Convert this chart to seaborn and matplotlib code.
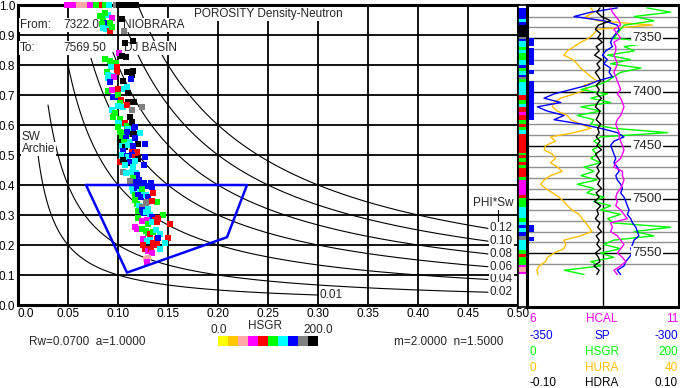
import numpy as np
import matplotlib
matplotlib.use('Agg')
import matplotlib.pyplot as plt
from matplotlib.colors import ListedColormap
import seaborn as sns

# HSGR colour classes, 0-200 API in 10 bins
gr_names = ['yellow', 'orange', 'pink', 'magenta', 'red',
            'green', 'cyan', 'blue', 'gray', 'black']
gr_colors = ['#FFFF00', '#FFC800', '#FFA8A8', '#FF00FF', '#FF0000',
             '#00FF00', '#00FFFF', '#0000FF', '#808080', '#000000']
GR_PAL = dict(zip(gr_names, gr_colors))

# ---- crossplot points (porosity, Sw, HSGR class)
pt_phi = [
    # clipped at Sw = 1
    .049, .053, .057, .061, .065, .068, .072, .078, .081, .084, .087, .091, .098, .101, .105, .109, .113, .118,
    # upper cloud
    .082, .085, .090, .094, .087, .089, .092, .084, .085, .088, .092, .094, .106, .104, .115, .107, .101, .104,
    .108, .087, .092, .094, .098, .093, .109, .115, .114, .113, .099, .099, .089, .090, .094, .096, .090, .092,
    .105, .109, .106, .110, .090, .094, .100, .095, .099, .100, .103, .102, .110, .116, .100, .105, .109, .114,
    .124, .094, .097, .095, .112, .102, .100, .104, .107, .109, .114, .117, .115, .110, .100, .104, .109, .112,
    .116,
    # lower cloud
    .102, .105, .109, .115, .122, .104, .108, .102, .106, .112, .117, .120, .127, .104, .107, .110, .115, .105,
    .114, .117, .119, .104, .109, .110, .114, .117, .120, .127, .102, .105, .109, .112, .117, .126, .107, .115,
    .105, .108, .114, .118, .119, .115, .112, .114, .118, .121, .122, .126, .128, .133, .134, .114, .115, .119,
    .122, .124, .117, .120, .123, .128, .130, .135, .139, .117, .119, .121, .124, .128, .129, .134, .120, .124,
    .125, .128, .130, .132, .134, .137, .140, .145, .152, .120, .124, .129, .130, .134, .139, .140, .117, .119,
    .124, .128, .130, .132, .135, .138, .142, .150, .125, .129, .132, .139, .135, .139, .142, .125, .127, .130,
    .133, .134, .147, .140, .128, .130, .129,
]
pt_sw = [
    1.0, 1.0, 1.0, 1.0, 1.0, 1.0, 1.0, 1.0, 1.0, 1.0, 1.0, 1.0, 1.0, 1.0, 1.0, 1.0, 1.0, 1.0,
    .963, .953, .967, .956, .972, .941, .939, .937, .922, .919, .914, .928, .913, .952, .881, .874, .841, .830,
    .828, .819, .814, .806, .808, .794, .778, .781, .767, .753, .792, .778, .778, .767, .763, .759, .756, .744,
    .748, .726, .719, .708, .714, .717, .719, .692, .694, .700, .683, .674, .678, .678, .663, .661, .667, .650,
    .661, .650, .641, .628, .628, .619, .608, .603, .608, .597, .611, .594, .586, .586, .592, .574, .574, .570,
    .570,
    .578, .572, .578, .570, .572, .559, .556, .544, .544, .544, .556, .537, .537, .530, .526, .533, .530, .514,
    .511, .506, .511, .500, .497, .492, .500, .494, .486, .494, .476, .483, .472, .478, .481, .467, .467, .461,
    .444, .439, .444, .441, .433, .422, .414, .408, .411, .417, .403, .406, .397, .406, .394, .392, .381, .389,
    .378, .386, .367, .367, .359, .367, .359, .372, .344, .350, .337, .330, .326, .339, .344, .348, .314, .317,
    .306, .311, .319, .299, .292, .283, .289, .300, .270, .289, .281, .283, .270, .278, .278, .286, .261, .254,
    .254, .248, .241, .237, .244, .250, .237, .222, .221, .214, .217, .221, .206, .199, .188, .199, .188, .181,
    .186, .172, .206, .222, .154, .157, .143,
]
pt_cls = [
    'magenta', 'magenta', 'magenta', 'pink', 'pink', 'pink', 'magenta', 'green', 'green', 'red', 'green', 'cyan',
    'gray', 'black', 'black', 'black', 'black', 'black',
    'green', 'green', 'cyan', 'magenta', 'green', 'blue', 'green', 'green', 'cyan', 'cyan', 'red', 'green',
    'gray', 'black', 'black', 'black', 'magenta', 'black', 'black', 'green', 'green', 'green', 'green', 'cyan',
    'black', 'black', 'black', 'blue', 'red', 'red', 'green', 'cyan', 'cyan', 'magenta', 'cyan', 'blue',
    'black', 'cyan', 'cyan', 'black', 'green', 'magenta', 'red', 'blue', 'blue', 'green', 'red', 'green',
    'black', 'black', 'cyan', 'cyan', 'red', 'gray', 'gray', 'cyan', 'green', 'green', 'black', 'green',
    'cyan', 'cyan', 'red', 'green', 'black', 'blue', 'blue', 'cyan', 'green', 'green', 'red', 'green', 'black',
    'green', 'green', 'blue', 'black', 'cyan', 'green', 'blue', 'black', 'green', 'cyan', 'blue', 'black',
    'blue', 'cyan', 'black', 'cyan', 'blue', 'blue', 'red', 'blue', 'red', 'cyan', 'blue', 'cyan', 'blue',
    'red', 'black', 'blue', 'red', 'black', 'black', 'blue', 'cyan', 'blue', 'cyan', 'cyan', 'gray', 'cyan',
    'cyan', 'cyan', 'blue', 'green', 'gray', 'gray', 'blue', 'blue', 'blue', 'blue', 'blue', 'blue', 'blue',
    'cyan', 'cyan', 'blue', 'cyan', 'green', 'green', 'blue', 'blue', 'cyan', 'blue', 'red', 'green', 'green',
    'green', 'cyan', 'gray', 'gray', 'gray', 'red', 'green', 'blue', 'blue', 'cyan', 'cyan', 'cyan', 'blue',
    'red', 'red', 'green', 'red', 'green', 'magenta', 'magenta', 'green', 'cyan', 'red', 'red', 'magenta',
    'magenta', 'green', 'green', 'green', 'red', 'green', 'cyan', 'cyan', 'red', 'magenta', 'cyan', 'cyan',
    'red', 'red', 'red', 'cyan', 'red', 'red', 'magenta', 'red', 'magenta', 'cyan', 'blue', 'pink', 'pink',
    'magenta',
]

# ---- bulk volume water lines (PHI*Sw)
bvw_vals = [0.01, 0.02, 0.04, 0.06, 0.08, 0.10, 0.12]
bvw_start = [0.018, 0.030, 0.050, 0.073, 0.095, 0.105, 0.120]
bvw_end = [0.30, 0.47, 0.47, 0.47, 0.47, 0.47, 0.47]

# ---- cutoff polygon
poly_phi = [0.068, 0.229, 0.209, 0.109, 0.068]
poly_sw = [0.400, 0.400, 0.226, 0.108, 0.400]

# ---- log curves, sampled every 4 ft
depth = np.arange(7322, 7571, 4)
hura = [16.8, 17.6, 15.5, 18.5, 33.0, 18.5, 17.6, 16.3, 14.1, 12.4,
        10.6, 9.7, 12.0, 13.2, 14.1, 15.5, 16.8, 18.5, 15.0, 15.9,
        12.4, 8.8, 7.1, 6.7, 8.0, 10.6, 11.5, 14.1, 16.8, 12.4,
        6.2, 7.5, 4.9, 4.5, 6.7, 7.5, 6.2, 8.0, 9.3, 6.2,
        4.5, 3.6, 4.9, 6.7, 8.4, 9.7, 10.6, 11.9, 13.7, 14.5,
        15.5, 16.3, 17.1, 14.1, 9.7, 10.2, 9.7, 7.1, 5.4, 4.9,
        3.2, 2.6, 2.9]
hsgr = [158, 189, 141, 167, 128, 123, 119, 114, 167, 128,
        141, 106, 136, 110, 150, 123, 114, 106, 92, 71,
        106, 84, 110, 71, 97, 66, 88, 84, 114, 185,
        97, 88, 97, 86, 92, 84, 97, 75, 88, 71,
        92, 66, 88, 79, 101, 88, 110, 97, 123, 106,
        114, 189, 141, 167, 114, 101, 123, 97, 114, 84,
        97, 49, 75]
sp = [-320.3, -329.0, -334.5, -324.7, -320.3, -319.7, -320.8, -321.9, -322.5, -321.9,
      -324.1, -325.2, -323.6, -324.7, -322.5, -323.0, -321.9, -326.9, -330.2, -335.6,
      -341.1, -344.4, -338.9, -346.6, -343.3, -337.8, -341.1, -332.3, -325.8, -320.3,
      -318.1, -321.4, -322.5, -321.9, -321.4, -320.8, -321.4, -320.3, -319.7, -320.8,
      -320.3, -319.2, -318.6, -319.2, -318.1, -317.5, -317.0, -316.4, -317.0, -315.9,
      -315.3, -314.2, -313.7, -313.2, -314.8, -315.3, -315.9, -315.3, -316.4, -317.5,
      -318.1, -320.3, -319.2]
hcal = [8.75, 8.81, 8.92, 9.03, 9.08, 8.86, 8.97, 9.08, 8.86, 8.92,
        8.92, 8.86, 8.92, 8.97, 8.92, 8.86, 8.92, 8.97, 9.03, 9.08,
        8.97, 9.08, 9.14, 9.19, 9.14, 9.08, 8.97, 8.92, 8.97, 9.03,
        9.03, 9.08, 9.14, 9.19, 9.14, 9.08, 8.92, 8.86, 9.14, 9.14,
        9.19, 9.14, 9.08, 8.97, 8.92, 8.97, 8.92, 9.08, 9.19, 9.30,
        8.75, 8.81, 8.75, 8.97, 9.08, 9.19, 9.08, 8.97, 9.14, 9.25,
        9.08, 8.86, 8.97]
hdra = [-0.004, -0.008, -0.002, 0.010, -0.006, -0.010, -0.003, -0.007, -0.001, -0.009,
        -0.005, -0.011, -0.002, -0.008, -0.004, -0.010, -0.006, -0.003, -0.009, -0.005,
        -0.008, -0.002, -0.007, -0.010, -0.004, -0.006, -0.009, -0.003, -0.007, -0.005,
        -0.009, -0.004, -0.008, -0.002, -0.010, -0.006, -0.003, -0.008, -0.005, -0.009,
        -0.004, -0.007, -0.002, -0.009, -0.005, -0.011, -0.003, -0.008, -0.006, -0.010,
        -0.004, -0.007, -0.002, -0.009, -0.005, -0.008, -0.003, -0.010, -0.006, -0.004,
        -0.012, -0.005, -0.008]

# HSGR colour strip (segment tops) and pay flags
strip_top = [7322, 7332, 7335, 7338, 7349, 7351, 7353, 7358, 7361, 7364, 7370, 7375, 7378, 7381,
             7384, 7386, 7388, 7391, 7403, 7408, 7411, 7414, 7419, 7422, 7426, 7430, 7433, 7436,
             7439, 7457, 7459, 7462, 7465, 7468, 7471, 7479, 7482, 7496, 7499, 7507, 7517, 7521,
             7524, 7527, 7530, 7534, 7538, 7547, 7551, 7554, 7561, 7563, 7568, 7569.5]
strip_cls = ['blue', 'cyan', 'blue', 'black', 'gray', 'blue', 'cyan', 'green', 'cyan', 'green', 'cyan',
             'blue', 'green', 'cyan', 'blue', 'gray', 'green', 'cyan', 'red', 'green', 'cyan', 'red',
             'magenta', 'red', 'green', 'red', 'green', 'cyan', 'red', 'green', 'red', 'green', 'red',
             'green', 'red', 'green', 'magenta', 'red', 'green', 'cyan', 'green', 'cyan', 'blue', 'cyan',
             'blue', 'gray', 'cyan', 'green', 'red', 'green', 'magenta', 'pink', 'magenta']
flag_top = [7350, 7359, 7380, 7390, 7524, 7535]
flag_bot = [7357, 7375, 7383.5, 7426, 7530, 7539]

# ---- figure
sns.set_theme(style='white')
plt.rcParams['font.family'] = ['Liberation Sans', 'DejaVu Sans']
W, H = 680, 388
fig = plt.figure(figsize=(W / 100, H / 100), dpi=100)


def px_rect(x0, y0, x1, y1):
    return [x0 / W, 1 - y1 / H, (x1 - x0) / W, (y1 - y0) / H]


FS = 8.5
white_box = dict(facecolor='white', edgecolor='none', pad=0.6)

# main crossplot
ax = fig.add_axes(px_rect(18, 5, 518, 305))
ax.set_xlim(0, 0.5)
ax.set_ylim(0, 1)
ax.set_xticks(np.arange(0, 0.501, 0.05))
ax.set_yticks(np.arange(0, 1.001, 0.1))
ax.set_xticklabels(['0.0'] + [f'{v:.2f}' for v in np.arange(0.05, 0.501, 0.05)], fontsize=FS)
ax.set_yticklabels([f'{v:.1f}' for v in np.arange(0, 1.001, 0.1)], fontsize=FS)
ax.get_xticklabels()[0].set_horizontalalignment('left')
ax.tick_params(length=0, pad=2, colors='black')
ax.grid(True, color='black', lw=1.3)
ax.set_axisbelow(True)
for s in ax.spines.values():
    s.set_color('black')
    s.set_linewidth(2.2)

for c, p0, p1 in zip(bvw_vals, bvw_start, bvw_end):
    phi = np.linspace(p0, p1, 200)
    sns.lineplot(x=phi, y=c / phi, ax=ax, color='black', lw=0.8,
                 sort=False, estimator=None, zorder=2)
    ax.text(p1 + 0.002, c / p1, f'{c:.2f}', ha='left', va='center',
            fontsize=FS, bbox=white_box, zorder=3)

sns.scatterplot(x=pt_phi, y=pt_sw, hue=pt_cls, palette=GR_PAL, marker='s',
                s=19, linewidth=0, legend=False, ax=ax, zorder=4, clip_on=False)
sns.lineplot(x=poly_phi, y=poly_sw, ax=ax, color='#0000FF', lw=1.8,
             sort=False, estimator=None, zorder=5)

ax.text(0.176, 0.97, 'POROSITY Density-Neutron', fontsize=FS, va='center', bbox=white_box, zorder=3)
ax.text(0.002, 0.933, 'From:', fontsize=FS, va='center', bbox=white_box, zorder=3)
ax.text(0.045, 0.933, '7322.0', fontsize=FS, va='center', bbox=white_box, zorder=3)
ax.text(0.105, 0.933, 'NIOBRARA', fontsize=FS, va='center', bbox=white_box, zorder=3)
ax.text(0.002, 0.857, 'To:', fontsize=FS, va='center', bbox=white_box, zorder=3)
ax.text(0.045, 0.857, '7569.50', fontsize=FS, va='center', bbox=white_box, zorder=3)
ax.text(0.106, 0.857, 'DJ BASIN', fontsize=FS, va='center', bbox=white_box, zorder=3)
ax.text(0.004, 0.56, 'SW', fontsize=FS, va='center', bbox=white_box, zorder=3)
ax.text(0.004, 0.52, 'Archie', fontsize=FS, va='center', bbox=white_box, zorder=3)
ax.text(0.455, 0.34, 'PHI*Sw', fontsize=FS, va='center', bbox=white_box, zorder=3)
ax.plot([0.480, 0.480], [0.327, 0.262], color='black', lw=0.8, zorder=2)

# text under the crossplot
fig.text(29 / W, 1 - 342 / H, 'Rw=0.0700  a=1.0000', fontsize=FS, va='center')
fig.text(394 / W, 1 - 342 / H, 'm=2.0000  n=1.5000', fontsize=FS, va='center')
fig.text(265 / W, 1 - 326 / H, 'HSGR', fontsize=FS, va='center', ha='center')
fig.text(219 / W, 1 - 330 / H, '0.0', fontsize=FS, va='center', ha='center')
fig.text(318 / W, 1 - 330 / H, '200.0', fontsize=FS, va='center', ha='center')

ax_cb = fig.add_axes(px_rect(218, 336, 318, 346))
sns.heatmap([list(range(len(gr_colors)))], cmap=ListedColormap(gr_colors), cbar=False,
            xticklabels=False, yticklabels=False, ax=ax_cb)

# HSGR colour strip
d_top, d_bot = 7319.3, 7600.2
ax_s = fig.add_axes(px_rect(518, 5, 527, 307))
for t, b, cl in zip(strip_top[:-1], strip_top[1:], strip_cls):
    ax_s.barh(t, 1, height=b - t, left=0, align='edge', color=GR_PAL[cl], lw=0)
ax_s.set_xlim(0, 1)
ax_s.set_ylim(d_bot, d_top)
ax_s.set_xticks([])
ax_s.set_yticks([])
for s in ax_s.spines.values():
    s.set_color('black')
    s.set_linewidth(1.2)

# log track
ax_t = fig.add_axes(px_rect(527, 5, 679, 307))
ax_t.set_xlim(0, 1)
ax_t.set_xticks([])
ax_t.set_yticks([])
for d in range(7330, 7561, 10):
    ax_t.axhline(d, color='black' if d % 50 == 0 else '#909090', lw=1.0, zorder=0)
ax_t.axvline(0.5, color='black', lw=1.0, zorder=0)
for t, b in zip(flag_top, flag_bot):
    ax_t.fill_betweenx([t, b], 0, 0.045, color='#0000FF', lw=0, zorder=1)
for s in ax_t.spines.values():
    s.set_color('black')
    s.set_linewidth(2.2)

curves = [
    (hura, 0, 40, '#FFC000'),
    (hsgr, 0, 200, '#00FF00'),
    (sp, -350, -300, '#0000FF'),
    (hcal, 6, 11, '#FF00FF'),
    (hdra, -0.1, 0.1, 'black'),
]
tw = ax_t
for vals, lo, hi, col in curves:
    tw = ax_t.twiny()
    sns.lineplot(x=vals, y=depth, ax=tw, color=col, lw=1.0, sort=False, estimator=None)
    tw.set_xlim(lo, hi)
    tw.axis('off')

for d in [7350, 7400, 7450, 7500, 7550]:
    tw.text(0.79, d, str(d), transform=tw.get_yaxis_transform(), ha='center', va='center',
            fontsize=9.5, bbox=dict(facecolor='white', edgecolor='none', pad=0.8), zorder=6)
ax_t.set_ylim(d_bot, d_top)

# curve scale legend under the track
legend_rows = [('6', 'HCAL', '11', '#FF00FF'),
               ('-350', 'SP', '-300', '#0000FF'),
               ('0', 'HSGR', '200', '#00FF00'),
               ('0', 'HURA', '40', '#FFC000'),
               ('-0.10', 'HDRA', '0.10', 'black')]
row_y = [319, 336, 352, 368, 383]
for (lft, name, rgt, col), y in zip(legend_rows, row_y):
    fig.text(529 / W, 1 - y / H, lft, color=col, fontsize=FS, va='center', ha='left')
    fig.text(602 / W, 1 - y / H, name, color=col, fontsize=FS, va='center', ha='center')
    fig.text(678 / W, 1 - y / H, rgt, color=col, fontsize=FS, va='center', ha='right')

fig.savefig('out.png', dpi=100)
